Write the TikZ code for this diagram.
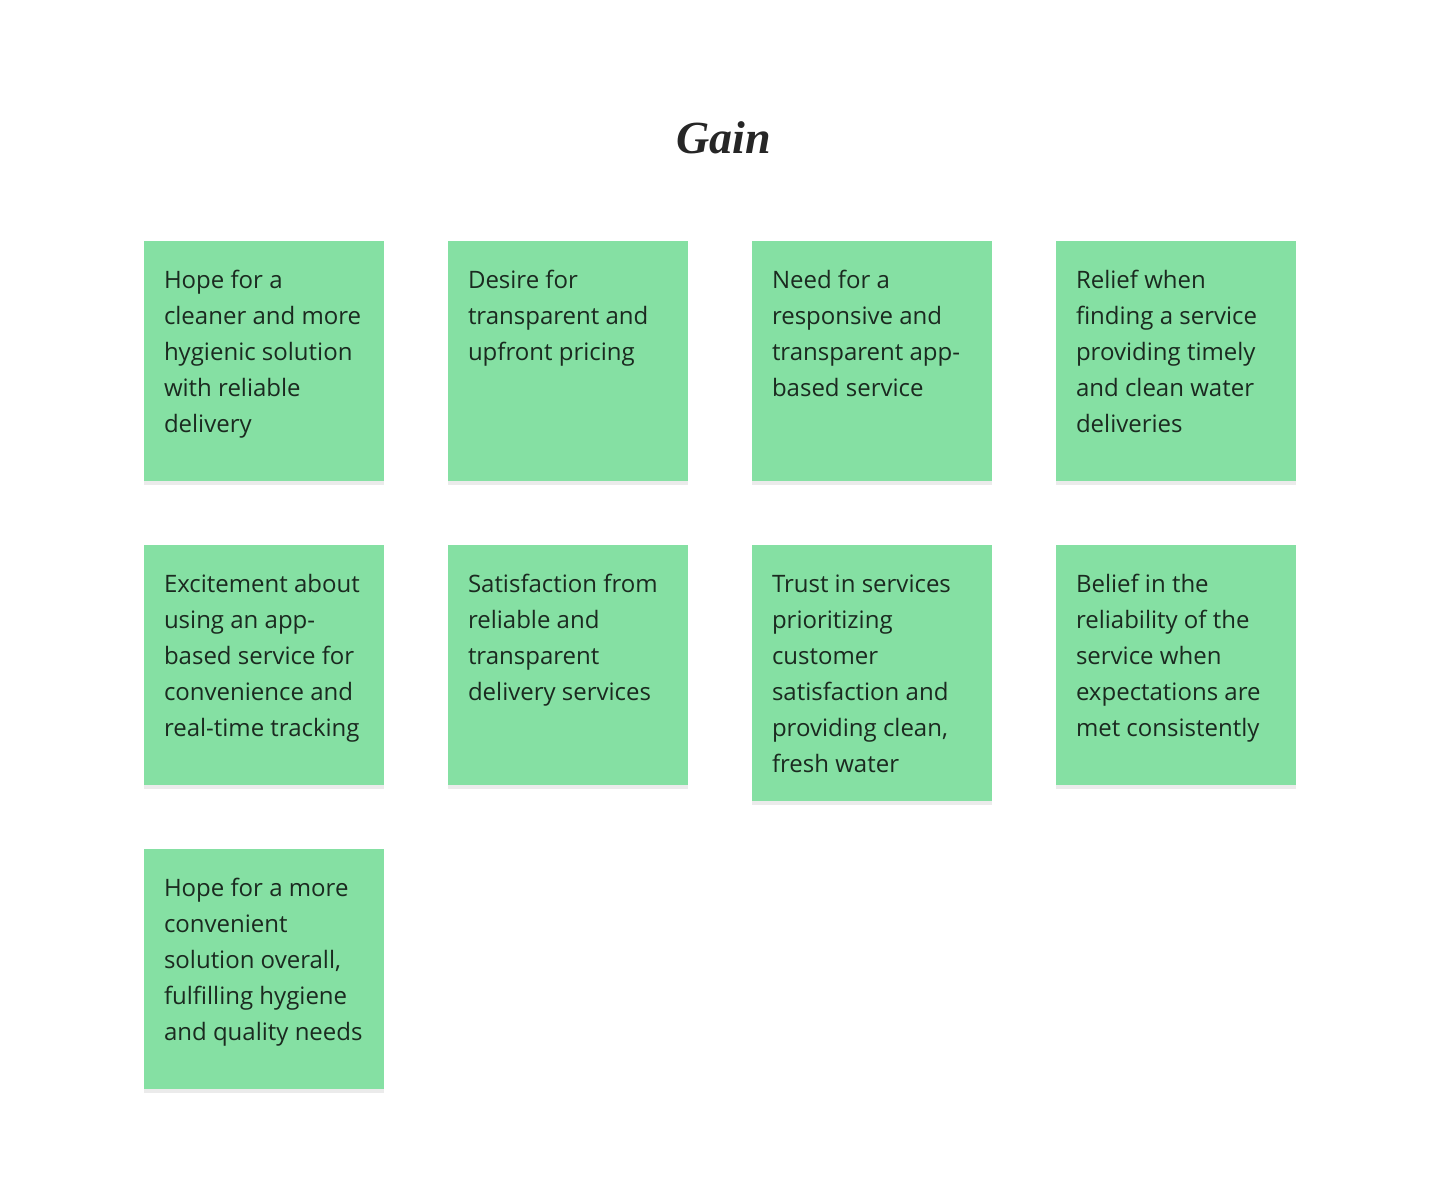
\documentclass[tikz,border=0pt]{standalone}
\usepackage{fontspec}
\setmainfont{Open Sans}
\newfontfamily\titlefont{Liberation Serif}
\usetikzlibrary{positioning, shadows}

\definecolor{stickygreen}{HTML}{85E0A3}
\definecolor{stickyink}{HTML}{1B2A20}

\begin{document}
\begin{tikzpicture}[
        x=1pt, y=1pt,
        node distance=64pt,
        note/.style={rectangle, fill=stickygreen, minimum width=240pt, minimum height=240pt,
                     inner sep=0pt, outer sep=0pt, anchor=north west,
                     drop shadow={shadow xshift=0pt, shadow yshift=-4pt, opacity=0.08, fill=black}},
        tallnote/.style={note, minimum height=256pt},
        notetext/.style={anchor=north west, inner sep=0pt, outer sep=0pt, align=left, text=stickyink,
                         font=\fontsize{24}{36}\selectfont},
        title/.style={font=\titlefont\bfseries\itshape\fontsize{46}{46}\selectfont, text=black!85}
    ]
        \useasboundingbox (0,0) rectangle (1440,-1200);

        \node[title] (gain) at (724,-138) {Gain};

        % first row
        \node[note] (cleaner) at (144,-241) {};
        \node[note, right=of cleaner.north east, anchor=north west] (pricing) {};
        \node[note, right=of pricing.north east, anchor=north west] (appservice) {};
        \node[note, right=of appservice.north east, anchor=north west] (relief) {};

        % second row
        \node[note, below=of cleaner.south west, anchor=north west] (excitement) {};
        \node[note, below=of pricing.south west, anchor=north west] (satisfaction) {};
        \node[tallnote, below=of appservice.south west, anchor=north west] (trust) {};
        \node[note, below=of relief.south west, anchor=north west] (belief) {};

        % third row
        \node[note, below=of excitement.south west, anchor=north west] (convenient) {};

        \node[notetext] (cleanertxt) at ([xshift=20pt, yshift=-29pt]cleaner.north west)
            {Hope for a\\cleaner and more\\hygienic solution\\with reliable\\delivery};
        \node[notetext] (pricingtxt) at ([xshift=20pt, yshift=-29pt]pricing.north west)
            {Desire for\\transparent and\\upfront pricing};
        \node[notetext] (appservicetxt) at ([xshift=20pt, yshift=-29pt]appservice.north west)
            {Need for a\\responsive and\\transparent app-\\based service};
        \node[notetext] (relieftxt) at ([xshift=20pt, yshift=-29pt]relief.north west)
            {Relief when\\finding a service\\providing timely\\and clean water\\deliveries};
        \node[notetext] (excitementtxt) at ([xshift=20pt, yshift=-29pt]excitement.north west)
            {Excitement about\\using an app-\\based service for\\convenience and\\real-time tracking};
        \node[notetext] (satisfactiontxt) at ([xshift=20pt, yshift=-29pt]satisfaction.north west)
            {Satisfaction from\\reliable and\\transparent\\delivery services};
        \node[notetext] (trusttxt) at ([xshift=20pt, yshift=-30pt]trust.north west)
            {Trust in services\\prioritizing\\customer\\satisfaction and\\providing clean,\\fresh water};
        \node[notetext] (belieftxt) at ([xshift=20pt, yshift=-29pt]belief.north west)
            {Belief in the\\reliability of the\\service when\\expectations are\\met consistently};
        \node[notetext] (convenienttxt) at ([xshift=20pt, yshift=-29pt]convenient.north west)
            {Hope for a more\\convenient\\solution overall,\\fulfilling hygiene\\and quality needs};
    \end{tikzpicture}
\end{document}
